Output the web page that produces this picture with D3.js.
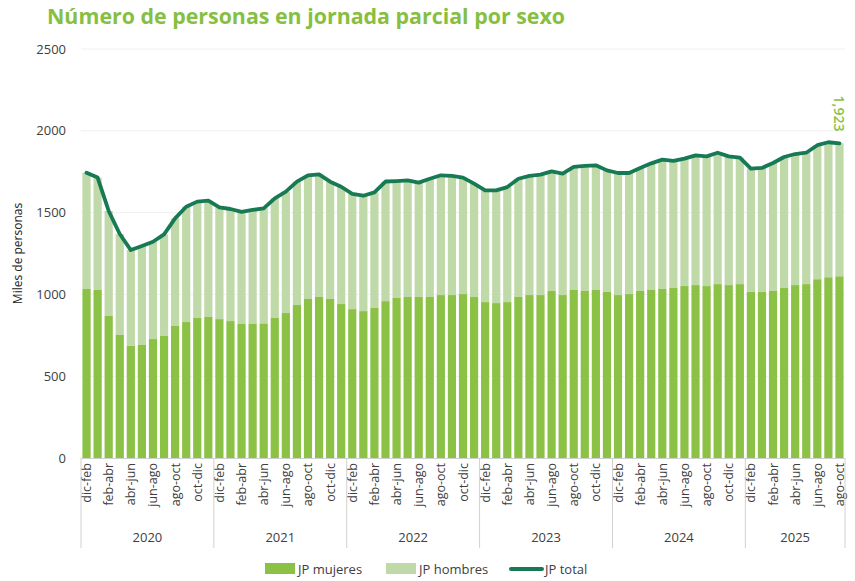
<!DOCTYPE html>
<html>
<head>
<meta charset="utf-8">
<script src="https://cdn.jsdelivr.net/npm/d3@7"></script>
<style>
  body { margin: 0; background: #fff; }
  svg text { font-family: "Open Sans", "Noto Sans", sans-serif; }
</style>
</head>
<body>
<div id="chart"></div>
<script>
var years = ["2020", "2021", "2022", "2023", "2024", "2025"];
var periods = ["dic-feb", "ene-mar", "feb-abr", "mar-may", "abr-jun", "may-jul",
               "jun-ago", "jul-sep", "ago-oct", "sep-nov", "oct-dic", "nov-ene"];
var barsPerYear = [12, 12, 12, 12, 12, 9];

// miles de personas
var mujeres = [1033, 1027, 868, 752, 685, 691, 727, 746, 807, 831, 856, 862,
               849, 837, 819, 819, 823, 856, 886, 935, 972, 984, 972, 941,
               910, 898, 917, 959, 978, 984, 984, 984, 996, 996, 1002, 984,
               953, 947, 953, 984, 996, 996, 1021, 996, 1027, 1021, 1027, 1015,
               996, 1002, 1021, 1027, 1033, 1039, 1051, 1057, 1051, 1063, 1057, 1063,
               1015, 1015, 1021, 1039, 1057, 1063, 1093, 1105, 1111];
var total = [1744, 1714, 1510, 1369, 1271, 1296, 1322, 1367, 1465, 1536, 1567, 1573,
             1532, 1522, 1504, 1516, 1526, 1587, 1628, 1689, 1728, 1734, 1689, 1658,
             1614, 1603, 1624, 1690, 1693, 1697, 1683, 1707, 1728, 1724, 1714, 1677,
             1636, 1636, 1656, 1707, 1724, 1732, 1752, 1738, 1779, 1785, 1789, 1758,
             1742, 1742, 1773, 1801, 1824, 1816, 1830, 1850, 1844, 1866, 1844, 1836,
             1769, 1773, 1803, 1840, 1858, 1866, 1912, 1930, 1923];
var hombres = total.map(function(t, i) { return t - mujeres[i]; });

var w = 855, h = 581;
var x0 = 81, x1 = 845, yBase = 458, yTop = 49;
var cWomen = "#8bc145", cMen = "#c0d9a8", cTotal = "#177a55";

var labels = [], yearOf = [];
years.forEach(function(y, yi) {
  for (var k = 0; k < barsPerYear[yi]; k++) { labels.push(periods[k]); yearOf.push(yi); }
});
var idx = d3.range(labels.length);

var svg = d3.select("#chart").append("svg").attr("width", w).attr("height", h);

var x = d3.scaleBand().domain(idx).range([x0, x1]).paddingInner(0.26).paddingOuter(0.13);
var y = d3.scaleLinear().domain([0, 2500]).range([yBase, yTop]);

// title
svg.append("text").attr("x", 47).attr("y", 24)
  .attr("font-size", 22).attr("font-weight", 700).attr("fill", "#86bf41")
  .attr("textLength", 518).attr("lengthAdjust", "spacingAndGlyphs")
  .text("Número de personas en jornada parcial por sexo");

// grid + y axis
var ticks = d3.range(0, 2501, 500);
svg.append("g").selectAll("line").data(ticks.slice(1)).enter().append("line")
  .attr("x1", x0).attr("x2", x1)
  .attr("y1", function(d) { return y(d); }).attr("y2", function(d) { return y(d); })
  .attr("stroke", "#f0f0f0").attr("stroke-width", 1);

svg.append("g").selectAll("text").data(ticks).enter().append("text")
  .attr("x", 66).attr("y", function(d) { return y(d) + 4.5; })
  .attr("text-anchor", "end").attr("font-size", 13).attr("fill", "#404040")
  .text(function(d) { return d; });

svg.append("text")
  .attr("transform", "translate(22," + y(1250) + ") rotate(-90)")
  .attr("text-anchor", "middle").attr("font-size", 12).attr("fill", "#222")
  .text("Miles de personas");

// bars
var stack = svg.append("g");
stack.selectAll(".m").data(idx).enter().append("rect")
  .attr("x", function(i) { return x(i); }).attr("width", x.bandwidth())
  .attr("y", function(i) { return y(mujeres[i]); })
  .attr("height", function(i) { return yBase - y(mujeres[i]); })
  .attr("fill", cWomen);
stack.selectAll(".h").data(idx).enter().append("rect")
  .attr("x", function(i) { return x(i); }).attr("width", x.bandwidth())
  .attr("y", function(i) { return y(total[i]); })
  .attr("height", function(i) { return y(mujeres[i]) - y(total[i]); })
  .attr("fill", cMen);

// total line
var line = d3.line()
  .x(function(i) { return x(i) + x.bandwidth() / 2; })
  .y(function(i) { return y(total[i]); });
svg.append("path").datum(idx).attr("d", line)
  .attr("fill", "none").attr("stroke", cTotal).attr("stroke-width", 3.8)
  .attr("stroke-linejoin", "round").attr("stroke-linecap", "round");

// last value label
var last = idx.length - 1;
svg.append("text")
  .attr("transform", "translate(" + (x(last) + x.bandwidth() / 2 - 5) + "," + (y(total[last]) - 12) + ") rotate(90)")
  .attr("text-anchor", "end").attr("font-size", 14).attr("font-weight", 600).attr("fill", "#8bc145")
  .text(d3.format(",")(total[last]));

// x axis
svg.append("line").attr("x1", x0).attr("x2", x1).attr("y1", yBase + 0.5).attr("y2", yBase + 0.5)
  .attr("stroke", "#d0d0d0");

svg.append("g").selectAll("text").data(idx.filter(function(i) { return periods.indexOf(labels[i]) % 2 === 0; }))
  .enter().append("text")
  .attr("transform", function(i) { return "translate(" + (x(i) + x.bandwidth() / 2 + 4.5) + "," + (yBase + 5) + ") rotate(-90)"; })
  .attr("text-anchor", "end").attr("font-size", 12.5).attr("fill", "#404040")
  .text(function(i) { return labels[i]; });

// year groups
var starts = [0];
barsPerYear.forEach(function(n, i) { starts.push(starts[i] + n); });
var step = x.step();
var edge = function(k) { return k === idx.length ? x1 : x(k) - step * x.paddingInner() / 2; };
svg.append("g").selectAll("line").data(starts).enter().append("line")
  .attr("x1", function(k) { return k === 0 ? x0 : edge(k); })
  .attr("x2", function(k) { return k === 0 ? x0 : edge(k); })
  .attr("y1", yBase).attr("y2", 548)
  .attr("stroke", "#d0d0d0");
svg.append("g").selectAll("text").data(years).enter().append("text")
  .attr("x", function(d, i) { return ((i === 0 ? x0 : edge(starts[i])) + edge(starts[i + 1])) / 2; })
  .attr("y", 542).attr("text-anchor", "middle").attr("font-size", 13).attr("fill", "#404040")
  .text(function(d) { return d; });

// legend
var lg = svg.append("g").attr("font-size", 13).attr("fill", "#404040");
lg.append("rect").attr("x", 265).attr("y", 563).attr("width", 30).attr("height", 11).attr("fill", cWomen);
lg.append("text").attr("x", 298).attr("y", 574).text("JP mujeres");
lg.append("rect").attr("x", 386).attr("y", 563).attr("width", 30).attr("height", 11).attr("fill", cMen);
lg.append("text").attr("x", 419).attr("y", 574).text("JP hombres");
lg.append("line").attr("x1", 511).attr("x2", 542).attr("y1", 569).attr("y2", 569)
  .attr("stroke", cTotal).attr("stroke-width", 4).attr("stroke-linecap", "round");
lg.append("text").attr("x", 545).attr("y", 574).text("JP total");
</script>
</body>
</html>
